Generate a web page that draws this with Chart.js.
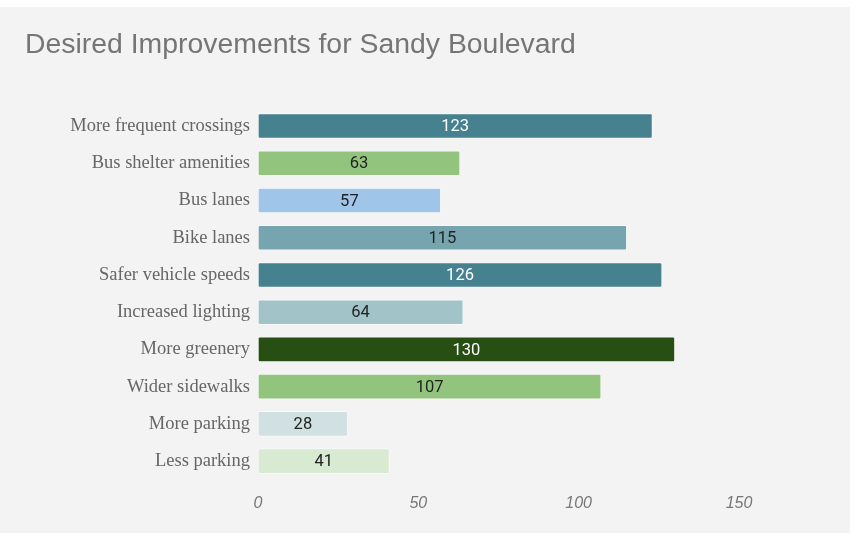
<!DOCTYPE html>
<html>
<head>
<meta charset="utf-8">
<script src="https://cdn.jsdelivr.net/npm/chart.js@4.4.1/dist/chart.umd.min.js"></script>
<style>
  body { margin: 0; background: #fff; }
  #panel { position: absolute; left: 0; top: 7px; width: 850px; height: 526px; background: #f3f3f3; }
</style>
</head>
<body>
<div id="panel"><canvas id="chart" width="850" height="526"></canvas></div>
<script>
const categories = ['More frequent crossings', 'Bus shelter amenities', 'Bus lanes', 'Bike lanes',
    'Safer vehicle speeds', 'Increased lighting', 'More greenery', 'Wider sidewalks',
    'More parking', 'Less parking'];
const votes = [123, 63, 57, 115, 126, 64, 130, 107, 28, 41];
const barColors = ['#45818e', '#93c47d', '#9fc5e8', '#76a5af', '#45818e',
    '#a2c4c9', '#274e13', '#93c47d', '#d0e0e3', '#d9ead3'];
const labelColors = ['#ffffff', '#222222', '#222222', '#222222', '#ffffff',
    '#222222', '#ffffff', '#222222', '#222222', '#222222'];

// value labels in the middle of each bar
const barLabels = {
    id: 'barLabels',
    afterDatasetsDraw(chart) {
        const ctx = chart.ctx;
        const meta = chart.getDatasetMeta(0);
        ctx.save();
        ctx.font = '16.5px Roboto';
        ctx.textAlign = 'center';
        ctx.textBaseline = 'middle';
        meta.data.forEach((bar, i) => {
            ctx.fillStyle = labelColors[i];
            ctx.fillText(votes[i], (bar.base + bar.x) / 2, bar.y + 1);
        });
        ctx.restore();
    }
};

new Chart(document.getElementById('chart'), {
    type: 'bar',
    data: {
        labels: categories,
        datasets: [{
            data: votes,
            backgroundColor: barColors,
            borderColor: 'rgba(255,255,255,0.5)',
            borderWidth: 1,
            borderRadius: 2,
            borderSkipped: false,
            barThickness: 25,
        }]
    },
    options: {
        indexAxis: 'y',
        responsive: false,
        animation: false,
        layout: {
            padding: { left: 25, right: 111, top: 0, bottom: 0 }
        },
        scales: {
            x: {
                min: 0,
                max: 150,
                ticks: {
                    stepSize: 50,
                    padding: 14,
                    color: '#777',
                    font: { family: 'Liberation Sans', size: 16, style: 'italic' },
                },
                grid: { display: false, drawTicks: false },
                border: { display: false },
                afterFit(scale) { scale.height = 53.2; }
            },
            y: {
                ticks: {
                    padding: 8,
                    color: '#666',
                    font: { family: 'Liberation Serif', size: 18.5 },
                },
                grid: { display: false, drawTicks: false },
                border: { display: false },
                afterFit(scale) { scale.width = 233; }
            }
        },
        plugins: {
            legend: { display: false },
            tooltip: { enabled: false },
            title: {
                display: true,
                text: 'Desired Improvements for Sandy Boulevard',
                align: 'start',
                color: '#757575',
                font: { family: 'Liberation Sans', size: 28.4, weight: 'normal' },
                padding: { top: 21, bottom: 45.3 }
            }
        }
    },
    plugins: [barLabels]
});
</script>
</body>
</html>
